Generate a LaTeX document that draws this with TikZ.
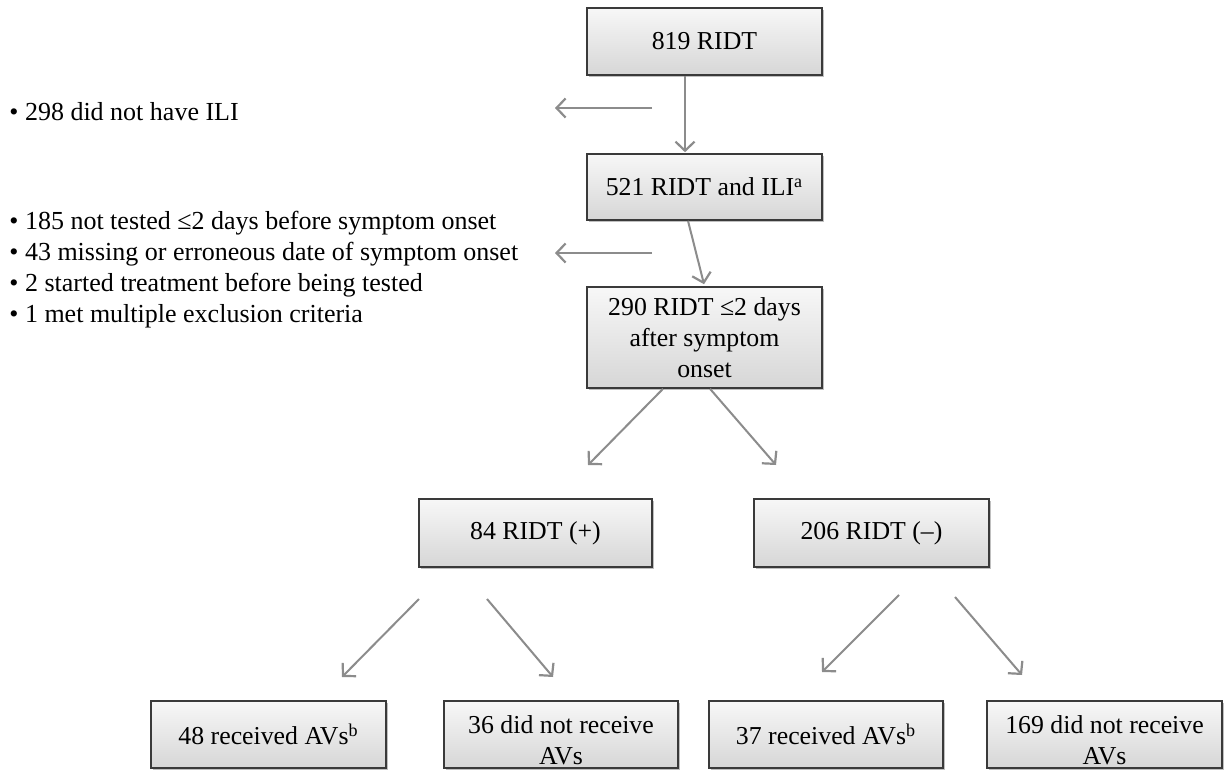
\documentclass[tikz,border=0pt]{standalone}
\usepackage{fontspec}
\setmainfont{Liberation Serif}
\usetikzlibrary{arrows.meta,shadows,calc}
\definecolor{arrgray}{HTML}{8C8C8C}
\definecolor{boxline}{HTML}{3A3A3A}
\tikzset{
  flowbox/.style={draw=boxline, line width=0.8pt, rectangle, align=center,
    top color=gray!6, bottom color=gray!32, inner sep=0pt,
    font=\fontsize{12.9}{15.5}\selectfont,
    drop shadow={shadow xshift=0.8pt, shadow yshift=-1.2pt, opacity=0.25, fill=black}},
  boxtext/.style={align=center, inner sep=0pt, font=\fontsize{12.9}{15.5}\selectfont},
  arr/.style={draw=arrgray, line width=1pt, -{Straight Barb[length=4.5pt,width=9.5pt,line width=1.1pt]}},
  listtext/.style={anchor=west, align=left, inner sep=0pt, font=\fontsize{13}{15.5}\selectfont}
}
\begin{document}
\begin{tikzpicture}[x=0.5pt,y=-0.5pt]
\useasboundingbox (0,0) rectangle (1224,771);
\fill[white] (0,0) rectangle (1224,771);
% boxes
\node[flowbox, minimum width=235*0.5pt, minimum height=67*0.5pt] (n819) at (704.5,41.5) {819 RIDT};
\node[flowbox, minimum width=235*0.5pt, minimum height=66*0.5pt] (n521) at (704.5,187) {521 RIDT and ILI\textsuperscript{a}};
\node[flowbox, minimum width=235*0.5pt, minimum height=101*0.5pt] (n290) at (704.5,337.5) {290 RIDT ≤2 days\\after symptom\\onset};
\node[flowbox, minimum width=233*0.5pt, minimum height=68*0.5pt] (n84) at (535.5,533) {84 RIDT (+)};
\node[flowbox, minimum width=235*0.5pt, minimum height=68*0.5pt] (n206) at (871.5,533) {206 RIDT (–)};
\node[flowbox, minimum width=235*0.5pt, minimum height=67*0.5pt] (n48) at (268.5,734.5) {48 received AVs\textsuperscript{b}};
\node[flowbox, minimum width=234*0.5pt, minimum height=67*0.5pt] (n36) at (561,734.5) {};
\node[boxtext] (t36) at ($(n36.center)+(0,6)$) {36 did not receive\\AVs};
\node[flowbox, minimum width=234*0.5pt, minimum height=67*0.5pt] (n37) at (826,734.5) {37 received AVs\textsuperscript{b}};
\node[flowbox, minimum width=235*0.5pt, minimum height=67*0.5pt] (n169) at (1104.5,734.5) {};
\node[boxtext] (t169) at ($(n169.center)+(0,6)$) {169 did not receive\\AVs};
% exclusion texts
\node[listtext] (ex1) at (9,112) {• 298 did not have ILI};
\node[listtext] (ex2) at (9,270) {• 185 not tested ≤2 days before symptom onset\\• 43 missing or erroneous date of symptom onset\\• 2 started treatment before being tested\\• 1 met multiple exclusion criteria};
% arrow end points
\coordinate (l1s) at (652,108);
\coordinate (l1e) at (555,108);
\coordinate (l2s) at (652,253);
\coordinate (l2e) at (555,253);
\coordinate (a290l) at (588,465);
\coordinate (a290r) at (776,465);
\coordinate (a84ls) at (419,599);
\coordinate (a84le) at (342,677);
\coordinate (a84rs) at (487,599);
\coordinate (a84re) at (553,677);
\coordinate (a206ls) at (899,595);
\coordinate (a206le) at (822,672);
\coordinate (a206rs) at (955,597);
\coordinate (a206re) at (1022,675);
% connectors
\draw[arr] ($(n819.south)+(-19.5,0)$) -- ($(n521.north)+(-19.5,-1)$);
\draw[arr] ($(n521.south)+(-16.5,0)$) -- ($(n290.north)+(-0.5,-2)$);
\draw[arr] (l1s) -- (l1e);
\draw[arr] (l2s) -- (l2e);
\draw[arr] ($(n290.south)+(-41.5,0)$) -- (a290l);
\draw[arr] ($(n290.south)+(5.5,0)$) -- (a290r);
\draw[arr] (a84ls) -- (a84le);
\draw[arr] (a84rs) -- (a84re);
\draw[arr] (a206ls) -- (a206le);
\draw[arr] (a206rs) -- (a206re);
\end{tikzpicture}
\end{document}
